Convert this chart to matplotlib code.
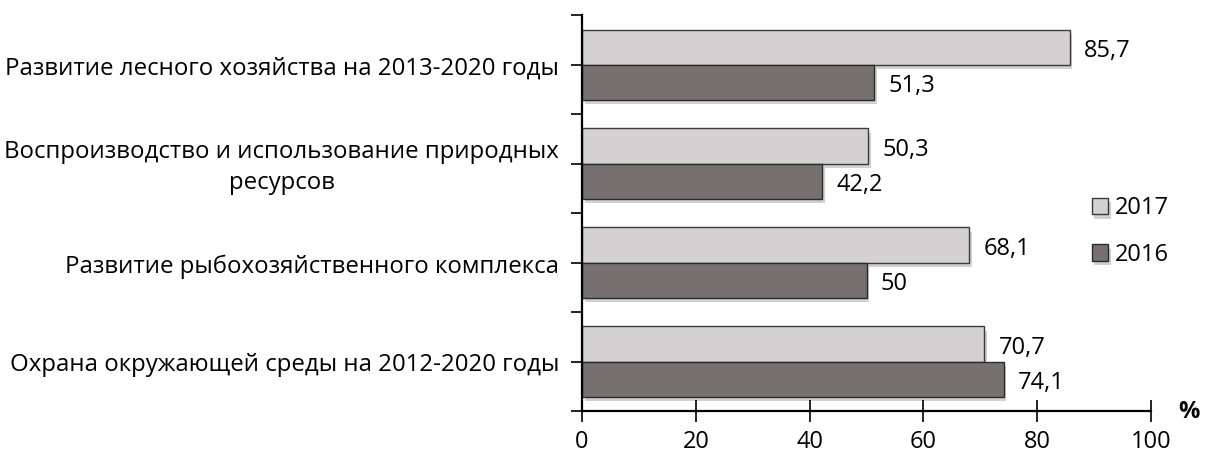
import matplotlib.pyplot as plt
import matplotlib.patheffects as pe
import numpy as np

categories = [
    'Развитие лесного хозяйства на 2013-2020 годы',
    'Воспроизводство и использование природных\nресурсов',
    'Развитие рыбохозяйственного комплекса',
    'Охрана окружающей среды на 2012-2020 годы',
]
values_2017 = [85.7, 50.3, 68.1, 70.7]
values_2016 = [51.3, 42.2, 50.0, 74.1]
series_names = ['2017', '2016']
x_ticks = [0, 20, 40, 60, 80, 100]


def fmt(v):
    return ('%g' % v).replace('.', ',')


plt.rcParams['font.family'] = ['Open Sans', 'DejaVu Sans']

fig = plt.figure(figsize=(12.06, 4.55), dpi=100)
ax = fig.add_axes([0.4826, 0.0967, 0.4718, 0.870])

y = np.arange(len(categories))
h = 0.355
shadow = [pe.SimplePatchShadow(offset=(2, -3), shadow_rgbFace='#9a9a9a', alpha=0.45), pe.Normal()]
b17 = ax.barh(y - h / 2, values_2017, height=h, color='#d3d1d1', edgecolor='#3a3a3a',
              linewidth=1, label=series_names[0], path_effects=shadow)
b16 = ax.barh(y + h / 2, values_2016, height=h, color='#767170', edgecolor='#2a2a2a',
              linewidth=1, label=series_names[1], path_effects=shadow)

for bars, vals in ((b17, values_2017), (b16, values_2016)):
    for bar, v in zip(bars, vals):
        ax.text(v + 2.5, bar.get_y() + bar.get_height() / 2 + 0.04, fmt(v),
                va='center', ha='left', fontsize=17)

ax.set_xlim(0, 100)
ax.set_ylim(len(categories) - 0.5, -0.5)
ax.set_xticks(x_ticks)
ax.set_xticklabels([str(t) for t in x_ticks], fontsize=17)
ax.set_yticks(np.arange(-0.5, len(categories), 0.5))
ax.set_yticklabels([])
ax.tick_params(axis='y', direction='out', length=8, width=1.2, color='black')
ax.tick_params(axis='x', direction='inout', length=16, width=1.2, color='black', pad=6)
for i, c in enumerate(categories):
    ax.text(-0.04, i + 0.04, c, transform=ax.get_yaxis_transform(), ha='right', va='center',
            multialignment='center', fontsize=17.3, linespacing=1.4)

for s in ('top', 'right'):
    ax.spines[s].set_visible(False)
ax.spines['left'].set_linewidth(1.6)
ax.spines['bottom'].set_linewidth(1.6)

fig.text(0.995, 0.095, '%', fontsize=17, fontweight='bold', ha='right', va='center')

leg = ax.legend(handles=[b17, b16], loc='center left', bbox_to_anchor=(0.875, 0.453),
                frameon=False, fontsize=17, handlelength=0.7, handleheight=0.7,
                handletextpad=0.3, labelspacing=0.95, borderpad=0)

fig.savefig('out.png', dpi=100)
